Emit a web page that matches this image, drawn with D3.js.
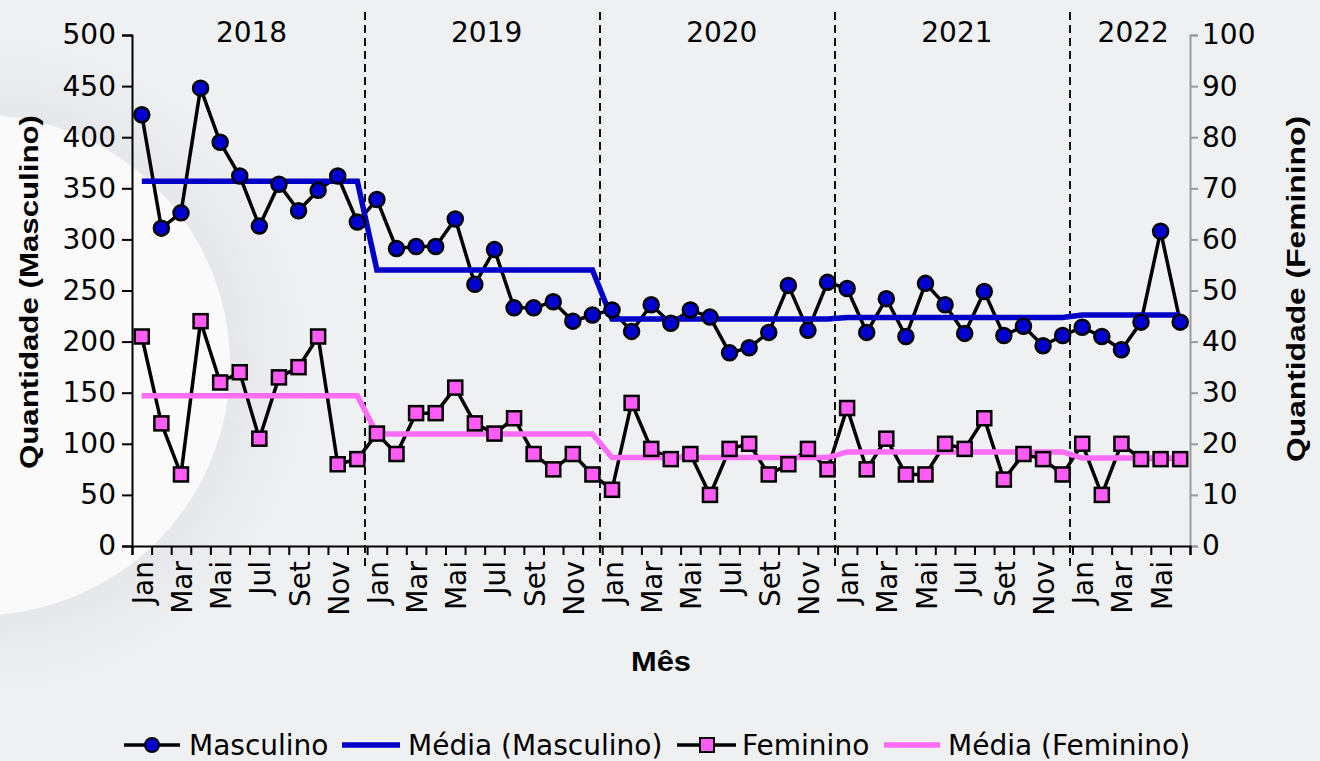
<!DOCTYPE html>
<html>
<head>
<meta charset="utf-8">
<script src="https://cdn.jsdelivr.net/npm/d3@7"></script>
<style>
  body { margin: 0; background: #eff0f2; }
  svg { display: block; font-family: "DejaVu Sans", sans-serif; }
</style>
</head>
<body>
<div id="chart"></div>
<script>
// data
var years = ["2018", "2019", "2020", "2021", "2022"];
var mesesNomes = ["Jan", "Fev", "Mar", "Abr", "Mai", "Jun", "Jul", "Ago", "Set", "Out", "Nov", "Dez"];
var masculino = [
    422, 311, 326, 448, 395, 362, 313, 354, 328, 348, 362, 317,
    339, 291, 293, 293, 320, 256, 290, 233, 233, 239, 220, 226,
    231, 210, 236, 218, 231, 224, 189, 194, 209, 255, 211, 258,
    252, 209, 242, 205, 257, 236, 208, 249, 206, 215, 196, 206,
    214, 205, 192, 219, 308, 219
];
var feminino = [
    41, 24, 14, 44, 32, 34, 21, 33, 35, 41, 16, 17,
    22, 18, 26, 26, 31, 24, 22, 25, 18, 15, 18, 14,
    11, 28, 19, 17, 18, 10, 19, 20, 14, 16, 19, 15,
    27, 15, 21, 14, 14, 20, 19, 25, 13, 18, 17, 14,
    20, 10, 20, 17, 17, 17
];
// media anual (uma por ano)
var mediaMasculino = [357, 270, 222, 223.5, 226];
var mediaFeminino = [29.4, 21.9, 17.3, 18.4, 17.2];

var width = 1320, height = 761;
var mLeft = 132, mRight = 1190, mTop = 35, mBottom = 546;
var n = masculino.length;

var svg = d3.select("#chart").append("svg")
    .attr("width", width)
    .attr("height", height);

// fundo com circulo branco
var defs = svg.append("defs");
var grad = defs.append("radialGradient").attr("id", "halo");
grad.append("stop").attr("offset", "0.76").attr("stop-color", "#e6e7ea");
grad.append("stop").attr("offset", "1").attr("stop-color", "#eff0f2");
svg.append("rect").attr("width", width).attr("height", height).attr("fill", "#eff0f2");
svg.append("circle").attr("cx", -20).attr("cy", 365).attr("r", 330).attr("fill", "url(#halo)");
svg.append("circle").attr("cx", -20).attr("cy", 365).attr("r", 250).attr("fill", "#fafafb");

var x = d3.scaleLinear().domain([0, n]).range([mLeft, mRight]);
var yM = d3.scaleLinear().domain([0, 500]).range([mBottom, mTop]);
var yF = d3.scaleLinear().domain([0, 100]).range([mBottom, mTop]);

var meses = d3.range(n).map(function (i) {
    return { i: i, mes: mesesNomes[i % 12], ano: Math.floor(i / 12) };
});

// eixo y esquerdo
var axL = svg.append("g")
    .attr("transform", "translate(" + mLeft + ",0)")
    .call(d3.axisLeft(yM).tickValues(d3.range(0, 501, 50)).tickSize(10).tickPadding(6));
axL.select(".domain").attr("stroke", "#000").attr("stroke-width", 2);
axL.selectAll(".tick line").attr("stroke", "#000").attr("stroke-width", 2);
axL.selectAll(".tick text").attr("font-size", 28).attr("font-family", "DejaVu Sans").attr("fill", "#000");

// eixo y direito
var axR = svg.append("g")
    .attr("transform", "translate(" + mRight + ",0)")
    .call(d3.axisRight(yF).tickValues(d3.range(0, 101, 10)).tickSize(8).tickPadding(4));
axR.select(".domain").attr("stroke", "#999").attr("stroke-width", 2);
axR.selectAll(".tick line").attr("stroke", "#999").attr("stroke-width", 2);
axR.selectAll(".tick text").attr("font-size", 28).attr("font-family", "DejaVu Sans").attr("fill", "#000");

// eixo x
var axB = svg.append("g")
    .attr("transform", "translate(0," + mBottom + ")")
    .call(d3.axisBottom(x).tickValues(d3.range(0, n + 1)).tickSize(9).tickFormat(""));
axB.select(".domain").attr("stroke", "#000").attr("stroke-width", 2);
axB.selectAll(".tick line").attr("stroke", "#000").attr("stroke-width", 2);

svg.append("g").selectAll("text")
    .data(meses.filter(function (d) { return d.i % 2 == 0; }))
    .enter()
    .append("text")
    .attr("transform", function (d) { return "translate(" + (x(d.i + 0.5) + 11) + ",561) rotate(-90)"; })
    .attr("text-anchor", "end")
    .attr("font-size", 28)
    .attr("fill", "#000")
    .text(function (d) { return d.mes; });

// linhas dos anos
svg.append("g").selectAll("line")
    .data(years.slice(1))
    .enter()
    .append("line")
    .attr("x1", function (d, k) { return Math.round(x((k + 1) * 12)) - 2; })
    .attr("x2", function (d, k) { return Math.round(x((k + 1) * 12)) - 2; })
    .attr("y1", 12)
    .attr("y2", 566)
    .attr("stroke", "#111")
    .attr("stroke-width", 2)
    .attr("stroke-dasharray", "8,5");

svg.append("g").selectAll("text")
    .data(years)
    .enter()
    .append("text")
    .attr("x", function (d, k) { return (x(k * 12) + x(Math.min((k + 1) * 12, n))) / 2 + 2; })
    .attr("y", 42)
    .attr("text-anchor", "middle")
    .attr("font-size", 28)
    .attr("fill", "#000")
    .text(function (d) { return d; });

// titulos
svg.append("text")
    .attr("transform", "translate(38,292) rotate(-90)")
    .attr("text-anchor", "middle")
    .attr("font-family", "Liberation Sans, Arial, sans-serif")
    .attr("font-size", 26).attr("font-weight", "bold")
    .attr("textLength", 354).attr("lengthAdjust", "spacingAndGlyphs")
    .text("Quantidade (Masculino)");
svg.append("text")
    .attr("transform", "translate(1305,289) rotate(-90)")
    .attr("text-anchor", "middle")
    .attr("font-family", "Liberation Sans, Arial, sans-serif")
    .attr("font-size", 26).attr("font-weight", "bold")
    .attr("textLength", 346).attr("lengthAdjust", "spacingAndGlyphs")
    .text("Quantidade (Feminino)");
svg.append("text")
    .attr("x", 661).attr("y", 671)
    .attr("text-anchor", "middle")
    .attr("font-family", "Liberation Sans, Arial, sans-serif")
    .attr("font-size", 27).attr("font-weight", "bold")
    .attr("textLength", 60).attr("lengthAdjust", "spacingAndGlyphs")
    .text("Mês");

// series
var lineM = d3.line()
    .x(function (d, i) { return x(i + 0.5); })
    .y(function (d) { return yM(d); });
var lineF = d3.line()
    .x(function (d, i) { return x(i + 0.5); })
    .y(function (d) { return yF(d); });

var mediaM = meses.map(function (d) { return mediaMasculino[d.ano]; });
var mediaF = meses.map(function (d) { return mediaFeminino[d.ano]; });

svg.append("path").datum(masculino).attr("d", lineM)
    .attr("fill", "none").attr("stroke", "#000").attr("stroke-width", 3.5);
svg.append("path").datum(feminino).attr("d", lineF)
    .attr("fill", "none").attr("stroke", "#000").attr("stroke-width", 3.5);
svg.append("path").datum(mediaM).attr("d", lineM)
    .attr("fill", "none").attr("stroke", "#0000c8").attr("stroke-width", 5.5);
svg.append("path").datum(mediaF).attr("d", lineF)
    .attr("fill", "none").attr("stroke", "#ff6cf5").attr("stroke-width", 5.5);

svg.append("g").selectAll("circle")
    .data(masculino).enter()
    .append("circle")
    .attr("cx", function (d, i) { return x(i + 0.5); })
    .attr("cy", function (d) { return yM(d); })
    .attr("r", 7.5)
    .attr("fill", "#0000d0")
    .attr("stroke", "#000")
    .attr("stroke-width", 2.5);

svg.append("g").selectAll("rect")
    .data(feminino).enter()
    .append("rect")
    .attr("x", function (d, i) { return x(i + 0.5) - 7; })
    .attr("y", function (d) { return yF(d) - 7; })
    .attr("width", 14)
    .attr("height", 14)
    .attr("fill", "#ff5cf5")
    .attr("stroke", "#000")
    .attr("stroke-width", 2.5);

// legenda
var leg = svg.append("g").attr("font-size", 28);
leg.append("line").attr("x1", 124).attr("x2", 180).attr("y1", 745).attr("y2", 745).attr("stroke", "#000").attr("stroke-width", 3.5);
leg.append("circle").attr("cx", 152).attr("cy", 745).attr("r", 7).attr("fill", "#0000d0").attr("stroke", "#000").attr("stroke-width", 2);
leg.append("text").attr("x", 189).attr("y", 755).text("Masculino");
leg.append("line").attr("x1", 342).attr("x2", 400).attr("y1", 745).attr("y2", 745).attr("stroke", "#0000c8").attr("stroke-width", 5.5);
leg.append("text").attr("x", 408).attr("y", 755).text("Média (Masculino)");
leg.append("line").attr("x1", 677).attr("x2", 736).attr("y1", 745).attr("y2", 745).attr("stroke", "#000").attr("stroke-width", 3.5);
leg.append("rect").attr("x", 700).attr("y", 738).attr("width", 14).attr("height", 14).attr("fill", "#ff5cf5").attr("stroke", "#000").attr("stroke-width", 2);
leg.append("text").attr("x", 742).attr("y", 755).text("Feminino");
leg.append("line").attr("x1", 884).attr("x2", 940).attr("y1", 745).attr("y2", 745).attr("stroke", "#ff6cf5").attr("stroke-width", 5.5);
leg.append("text").attr("x", 948).attr("y", 755).text("Média (Feminino)");
</script>
</body>
</html>
